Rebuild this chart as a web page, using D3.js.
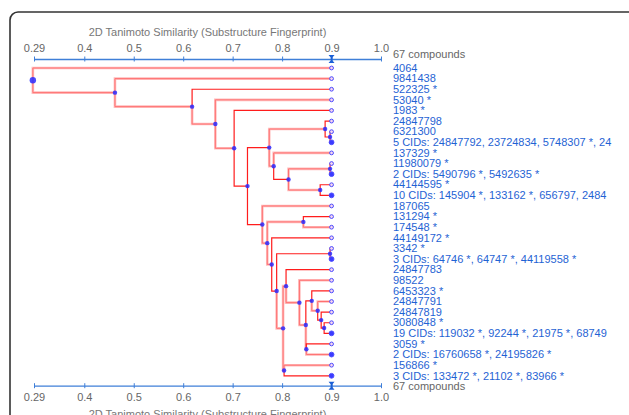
<!DOCTYPE html>
<html>
<head>
<meta charset="utf-8">
<script src="https://cdn.jsdelivr.net/npm/d3@7"></script>
<style>
body { margin: 0; background: #fff; }
svg { display: block; font-family: "Liberation Sans", Arial, sans-serif; }
</style>
</head>
<body>
<svg id="chart" width="629" height="415"></svg>
<script>
// leaf rows, top to bottom
var leafLabels = [
    "4064", "9841438", "522325 *", "53040 *", "1983 *", "24847798", "6321300",
    "5 CIDs: 24847792, 23724834, 5748307 *, 24",
    "137329 *", "11980079 *", "2 CIDs: 5490796 *, 5492635 *", "44144595 *",
    "10 CIDs: 145904 *, 133162 *, 656797, 2484",
    "187065", "131294 *", "174548 *", "44149172 *", "3342 *",
    "3 CIDs: 64746 *, 64747 *, 44119558 *",
    "24847783", "98522", "6453323 *", "24847791", "24847819", "3080848 *",
    "19 CIDs: 119032 *, 92244 *, 21975 *, 68749",
    "3059 *", "2 CIDs: 16760658 *, 24195826 *", "156866 *",
    "3 CIDs: 133472 *, 21102 *, 83966 *"
];

// [node, similarity, child, child] - numbers are leaf rows, strings are nodes
var merges = [
    ["H", 0.897, 6, 7],
    ["G", 0.887, 5, "H"],
    ["K", 0.897, 9, 10],
    ["L", 0.877, 11, 12],
    ["J", 0.813, "K", "L"],
    ["I", 0.783, 8, "J"],
    ["F", 0.774, "G", "I"],
    ["O", 0.843, 14, 15],
    ["R", 0.897, 17, 18],
    ["X4", 0.885, 24, 25],
    ["X3", 0.879, 23, "X4"],
    ["X2", 0.872, 22, "X3"],
    ["X1", 0.860, 21, "X2"],
    ["Y", 0.849, 26, 27],
    ["W", 0.848, "X1", "Y"],
    ["U", 0.835, 20, "W"],
    ["S", 0.808, 19, "U"],
    ["V", 0.804, 28, 29],
    ["T", 0.802, "S", "V"],
    ["Q", 0.789, "R", "T"],
    ["P", 0.779, 16, "Q"],
    ["N", 0.770, "O", "P"],
    ["M", 0.760, 13, "N"],
    ["E", 0.730, "F", "M"],
    ["D", 0.703, 4, "E"],
    ["C", 0.665, 3, "D"],
    ["B", 0.618, 2, "C"],
    ["A", 0.462, 1, "B"],
    ["root", 0.296, 0, "A"]
];

// links drawn as highlighted (pale wide)
var paleLinks = ["L0", "A", "L1", "B", "C", "L3", "D", "G", "I", "L8", "K", "L",
    "L13", "N", "O", "P", "L15", "T", "S", "V", "U", "L20", "W", "Y", "X2",
    "L22", "L27", "L28"];

var tickValues = [0.2983, 0.4, 0.5, 0.6, 0.7, 0.8, 0.9, 1.0];
var tickLabels = ["0.29", "0.4", "0.5", "0.6", "0.7", "0.8", "0.9", "1.0"];
var cutoff = 0.9;
var compoundCount = 67;
var axisTitle = "2D Tanimoto Similarity (Substructure Fingerprint)";

var svg = d3.select("#chart");
var axisColor = "#3f7fd8";

// panel frame
svg.append("rect")
    .attr("x", 10).attr("y", 12)
    .attr("width", 700).attr("height", 500)
    .attr("rx", 8)
    .attr("fill", "#fff")
    .attr("stroke", "#333")
    .attr("stroke-width", 1.6);

var x = d3.scaleLinear().domain([tickValues[0], 1.0]).range([34, 381]);
var y = d3.scaleLinear().domain([0, leafLabels.length - 1]).range([68, 375.8]);

// build the tree from the merge list
var nodes = {};
leafLabels.forEach(function(label, i) {
    nodes["L" + i] = {name: "L" + i, sim: cutoff, index: i, label: label,
        cluster: /CIDs:/.test(label)};
});
merges.forEach(function(m) {
    var kids = [m[2], m[3]].map(function(c) {
        return typeof c === "number" ? nodes["L" + c] : nodes[c];
    });
    nodes[m[0]] = {name: m[0], sim: m[1], children: kids};
});

var root = d3.hierarchy(nodes.root);
root.eachAfter(function(d) {
    d.px = x(d.data.sim);
    d.py = d.children ? d3.mean(d.children, function(c) { return c.py; }) : y(d.data.index);
});

function elbow(l) {
    return "M" + l.source.px + "," + l.source.py +
        "V" + l.target.py + "H" + l.target.px;
}

var links = root.links();
var pale = links.filter(function(l) { return paleLinks.indexOf(l.target.data.name) >= 0; });
var bright = links.filter(function(l) { return paleLinks.indexOf(l.target.data.name) < 0; });

var linkG = svg.append("g").attr("fill", "none");
linkG.selectAll(".pale-out").data(pale).enter().append("path")
    .attr("d", elbow)
    .attr("stroke", "#ffbcbc")
    .attr("stroke-width", 2.6);
linkG.selectAll(".pale-in").data(pale).enter().append("path")
    .attr("d", elbow)
    .attr("stroke", "#ff7070")
    .attr("stroke-width", 1);
linkG.selectAll(".bright").data(bright).enter().append("path")
    .attr("d", elbow)
    .attr("stroke", "#ff1c1c")
    .attr("stroke-width", 1.2);

// node markers
svg.append("g").selectAll("circle")
    .data(root.descendants().filter(function(d) { return d.children; }))
    .enter().append("circle")
    .attr("cx", function(d) { return d.px; })
    .attr("cy", function(d) { return d.py; })
    .attr("r", function(d) { return d.depth == 0 ? 3.2 : 2.2; })
    .attr("fill", "#2a2aff")
    .attr("fill-opacity", 0.85);

// leaf markers
svg.append("g").selectAll("circle")
    .data(root.leaves())
    .enter().append("circle")
    .attr("cx", function(d) { return d.px; })
    .attr("cy", function(d) { return d.py; })
    .attr("r", function(d) { return d.data.cluster ? 2.4 : 1.9; })
    .attr("fill", function(d) { return d.data.cluster ? "#3b3bff" : "#f6d6ee"; })
    .attr("stroke", "#4a4aff")
    .attr("stroke-width", 1);

// leaf labels, clipped at the panel edge
svg.append("clipPath").attr("id", "labelClip")
    .append("rect").attr("x", 0).attr("y", 0).attr("width", 612).attr("height", 415);

svg.append("g").attr("clip-path", "url(#labelClip)")
    .selectAll("text")
    .data(root.leaves())
    .enter().append("text")
    .attr("x", 393)
    .attr("y", function(d) { return d.py; })
    .attr("dy", "0.34em")
    .attr("font-size", 11)
    .attr("fill", "#1f63d4")
    .text(function(d) { return d.data.label; });

function drawAxis(yPos, top) {
    var axis = (top ? d3.axisTop(x) : d3.axisBottom(x))
        .tickValues(tickValues)
        .tickFormat(function(d, i) { return tickLabels[i]; })
        .tickSizeInner(2.5)
        .tickSizeOuter(0)
        .tickPadding(top ? 4.5 : 5);

    var g = svg.append("g").attr("transform", "translate(0," + yPos + ")").call(axis);
    g.attr("font-family", null).attr("font-size", 11);
    g.select(".domain").attr("stroke", axisColor).attr("stroke-width", 1.3);
    g.selectAll(".tick line").attr("y1", -2.5).attr("y2", 2.5).attr("stroke", axisColor);
    g.selectAll(".tick text").attr("fill", "#666");

    // cutoff marker
    g.append("path")
        .attr("transform", "translate(" + x(cutoff) + ",0)")
        .attr("d", "M-3,-4H3L0.9,-1.5V1.5L3,4H-3L-0.9,1.5V-1.5Z")
        .attr("fill", "#1a5fd6");

    svg.append("text")
        .attr("x", 393)
        .attr("y", top ? yPos - 1.5 : yPos + 4.5)
        .attr("font-size", 11)
        .attr("fill", "#666")
        .text(compoundCount + " compounds");

    // the bottom title runs past the lower edge, as in the source
    svg.append("text")
        .attr("x", (x.range()[0] + x.range()[1]) / 2)
        .attr("y", top ? yPos - 23.5 : yPos + 32)
        .attr("text-anchor", "middle")
        .attr("font-size", 11)
        .attr("fill", "#777")
        .text(axisTitle);
}

drawAxis(59, true);
drawAxis(385.7, false);
</script>
</body>
</html>
